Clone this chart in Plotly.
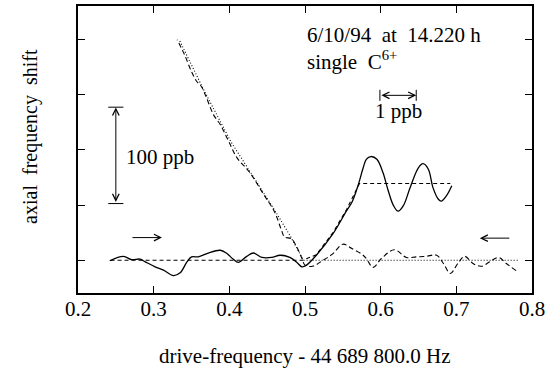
import plotly.graph_objects as go

# upward sweep (solid)
up_x = [0.242, 0.260, 0.271, 0.282, 0.289, 0.302, 0.313, 0.326, 0.335, 0.344, 0.350, 0.359,
        0.372, 0.388, 0.396, 0.405, 0.412, 0.423, 0.432, 0.443, 0.456, 0.467, 0.480, 0.490,
        0.496, 0.502, 0.515, 0.537, 0.555, 0.562, 0.570, 0.577, 0.581, 0.587, 0.595, 0.603,
        0.610, 0.617, 0.623, 0.630, 0.639, 0.650, 0.656, 0.663, 0.669, 0.676, 0.680, 0.687, 0.694]
up_y = [-0.01, 0.07, 0.01, 0.02, -0.03, -0.12, -0.18, -0.28, -0.23, -0.03, 0.06, 0.06,
        0.13, 0.18, 0.13, 0.02, -0.04, 0.07, 0.13, 0.05, 0.05, 0.09, 0.05, -0.05,
        -0.12, -0.09, 0.09, 0.48, 0.90, 1.05, 1.35, 1.68, 1.83, 1.88, 1.83, 1.59,
        1.26, 0.99, 0.89, 0.99, 1.32, 1.68, 1.75, 1.65, 1.32, 1.11, 1.07, 1.17, 1.35]

# downward sweep (dashed)
down_x = [0.779, 0.766, 0.756, 0.744, 0.733, 0.722, 0.711, 0.702, 0.692, 0.683, 0.674, 0.660,
          0.647, 0.634, 0.618, 0.601, 0.590, 0.581, 0.575, 0.562, 0.550, 0.537, 0.524, 0.510,
          0.500, 0.496, 0.489, 0.482, 0.473, 0.469, 0.460, 0.445, 0.427, 0.410, 0.399, 0.388,
          0.379, 0.370, 0.363, 0.357, 0.350, 0.341, 0.331]
down_y = [-0.19, -0.06, 0.05, -0.03, -0.11, -0.06, 0.07, -0.06, -0.24, -0.06, 0.09, 0.07,
          0.06, 0.05, 0.19, 0.03, -0.13, 0.03, 0.11, 0.21, 0.29, 0.12, 0.00, -0.11,
          -0.09, 0.03, 0.24, 0.39, 0.42, 0.54, 0.87, 1.20, 1.59, 1.86, 2.16, 2.46,
          2.64, 2.94, 3.15, 3.24, 3.42, 3.72, 4.00]

# fitted response for upward sweep (dashed)
fitup_x = [0.243, 0.497, 0.515, 0.537, 0.555, 0.572, 0.692]
fitup_y = [0.0, 0.0, 0.10, 0.50, 0.92, 1.39, 1.39]

# fitted response for downward sweep (dotted)
fitdn_x = [0.781, 0.498, 0.480, 0.462, 0.430, 0.402, 0.365, 0.334]
fitdn_y = [0.0, 0.0, 0.45, 0.86, 1.55, 2.15, 3.12, 3.99]

x_ticks = [0.2, 0.3, 0.4, 0.5, 0.6, 0.7, 0.8]
y_ticks = [0, 1, 2, 3, 4]

FONT = "Liberation Serif"
FS = 21
fig = go.Figure()
fig.add_trace(go.Scatter(x=fitup_x, y=fitup_y, mode="lines",
                         line=dict(color="black", width=1.1, dash="4px,3px")))
fig.add_trace(go.Scatter(x=fitdn_x, y=fitdn_y, mode="lines",
                         line=dict(color="black", width=1.1, dash="1px,2px")))
fig.add_trace(go.Scatter(x=down_x, y=down_y, mode="lines", line_shape="spline",
                         line=dict(color="black", width=1.1, dash="5px,3px")))
fig.add_trace(go.Scatter(x=up_x, y=up_y, mode="lines", line_shape="spline",
                         line=dict(color="black", width=1.3)))

ann = []
def arrow(x0, y0, x1, y1, both=False):
    ann.append(dict(x=x1, y=y1, ax=x0, ay=y0, xref="x", yref="y", axref="x", ayref="y",
                    text="", showarrow=True, arrowhead=5, startarrowhead=5,
                    arrowside="end+start" if both else "end",
                    arrowwidth=1, arrowsize=1.3, startarrowsize=1.3, arrowcolor="black"))

arrow(0.270, 0.41, 0.311, 0.41)
arrow(0.772, 0.40, 0.731, 0.40)
arrow(0.25, 1.03, 0.25, 2.77, both=True)
arrow(0.599, 2.99, 0.647, 2.99, both=True)

shapes = [
    dict(type="line", xref="x", yref="y", x0=0.240, x1=0.260, y0=2.775, y1=2.775, line=dict(color="black", width=1)),
    dict(type="line", xref="x", yref="y", x0=0.240, x1=0.260, y0=1.027, y1=1.027, line=dict(color="black", width=1)),
    dict(type="line", xref="x", yref="y", x0=0.599, x1=0.599, y0=2.89, y1=3.09, line=dict(color="black", width=1)),
    dict(type="line", xref="x", yref="y", x0=0.647, x1=0.647, y0=2.89, y1=3.09, line=dict(color="black", width=1)),
]

def txt(x, y, s, xanchor="left", **kw):
    ann.append(dict(x=x, y=y, xref="x", yref="y", text=s, showarrow=False,
                    xanchor=xanchor, yanchor="middle", font=dict(family=FONT, size=FS, color="black"), **kw))

txt(0.500, 4.09, "6/10/94&nbsp;&nbsp;at&nbsp;&nbsp;14.220 h")
txt(0.500, 3.63, "single&nbsp;&nbsp;C<sup>6+</sup>")
txt(0.624, 2.70, "1 ppb", xanchor="center")
txt(0.261, 1.87, "100 ppb")

ann.append(dict(x=0.5, y=-0.221, xref="paper", yref="paper", showarrow=False,
                text="drive-frequency - 44 689 800.0 Hz", xanchor="center", yanchor="middle",
                font=dict(family=FONT, size=FS, color="black")))
ann.append(dict(x=-0.106, y=0.547, xref="paper", yref="paper", showarrow=False, textangle=-90,
                text="axial&nbsp;&nbsp;frequency&nbsp;&nbsp;shift", xanchor="center", yanchor="middle",
                font=dict(family=FONT, size=20, color="black")))

fig.update_layout(
    width=553, height=371, margin=dict(l=78, r=21, t=4, b=78),
    paper_bgcolor="white", plot_bgcolor="white", showlegend=False,
    annotations=ann, shapes=shapes,
    font=dict(family=FONT, size=FS, color="black"),
)
fig.update_xaxes(range=[0.2, 0.8], tickvals=x_ticks, ticktext=[f"{v:.1f}" for v in x_ticks],
                 ticks="inside", ticklen=7, tickwidth=1.2, tickcolor="black",
                 showline=True, linecolor="black", linewidth=1.5, mirror="allticks",
                 showgrid=False, zeroline=False, tickfont=dict(family=FONT, size=FS),
                 ticklabelstandoff=-4)
fig.update_yaxes(range=[-0.595, 4.61], tickvals=y_ticks, showticklabels=False,
                 ticks="inside", ticklen=7, tickwidth=1.2, tickcolor="black",
                 showline=True, linecolor="black", linewidth=1.5, mirror="allticks",
                 showgrid=False, zeroline=False)

fig.write_html("out.html")
